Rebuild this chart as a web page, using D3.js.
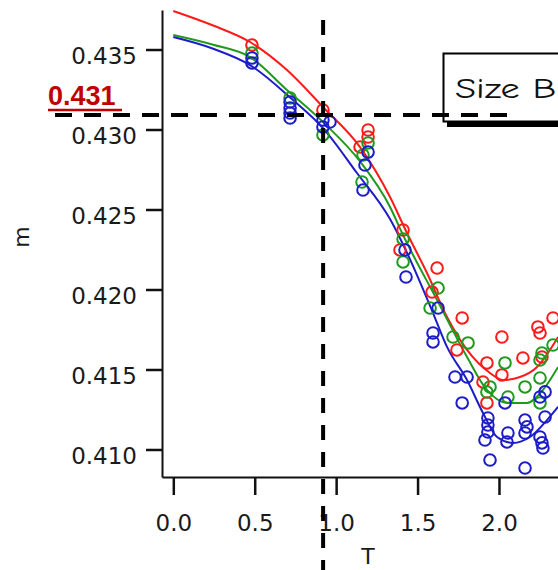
<!DOCTYPE html>
<html>
<head>
<meta charset="utf-8">
<script src="https://cdn.jsdelivr.net/npm/d3@7"></script>
<style>
  html, body { margin: 0; padding: 0; background: #fff; }
  svg { display: block; }
</style>
</head>
<body>
<svg id="chart" width="558" height="570"></svg>
<script>
// ---- data (T, m) ----
const xTicks = [0.0, 0.5, 1.0, 1.5, 2.0];
const yTicks = [0.410, 0.415, 0.420, 0.425, 0.430, 0.435];
const markT = 0.92;
const markM = 0.4309;
const markLabel = "0.431";
const boxText = "Size B";

const redPoints = [
  [0.483,0.43528],[0.919,0.43122],[1.196,0.42997],[1.196,0.42953],[1.147,0.42891],
  [1.411,0.42372],[1.392,0.42247],[1.620,0.42134],[1.589,0.41984],[1.774,0.41822],
  [1.742,0.41622],[2.018,0.41703],[1.926,0.41541],[1.902,0.41422],[1.926,0.41291],
  [2.147,0.41572],[2.239,0.41766],[2.252,0.41728],[2.332,0.41822],[2.264,0.41578],
  [2.018,0.41466]
];
const greenPoints = [
  [0.483,0.43478],[0.717,0.43197],[0.919,0.42966],[1.196,0.42916],[1.165,0.42841],
  [1.159,0.42672],[1.411,0.42316],[1.411,0.42172],[1.626,0.42009],[1.577,0.41884],
  [1.810,0.41666],[1.718,0.41703],[2.037,0.41541],[2.264,0.41603],[2.252,0.41559],
  [1.945,0.41391],[2.160,0.41391],[2.252,0.41447],[2.055,0.41328],[1.926,0.41359],
  [2.252,0.41291],[2.332,0.41653]
];
const bluePoints = [
  [0.483,0.43447],[0.483,0.43416],[0.717,0.43172],[0.717,0.43134],[0.717,0.43103],
  [0.717,0.43072],[0.919,0.43059],[0.962,0.43047],[0.919,0.43016],[1.196,0.42859],
  [1.177,0.42778],[1.165,0.42622],[1.423,0.42247],[1.429,0.42078],[1.626,0.41884],
  [1.595,0.41728],[1.595,0.41672],[1.730,0.41453],[1.804,0.41453],[1.774,0.41291],
  [1.932,0.41197],[1.932,0.41153],[1.932,0.41109],[1.914,0.41059],[1.945,0.40934],
  [2.055,0.41103],[2.049,0.41047],[2.037,0.41291],[2.160,0.41184],[2.172,0.41141],
  [2.160,0.41103],[2.160,0.40884],[2.252,0.41078],[2.264,0.41041],[2.270,0.41009],
  [2.252,0.41328],[2.283,0.41203],[2.283,0.41360]
];
const redLine = [
  [0.0,0.43741],[0.245,0.43650],[0.471,0.43547],[0.70,0.43370],[0.919,0.43141],[1.147,0.42890],
  [1.331,0.42578],[1.435,0.42353],[1.558,0.42103],[1.681,0.41828],[1.804,0.41622],
  [1.945,0.41478],[2.025,0.41434],[2.129,0.41453],[2.234,0.41516],[2.363,0.41703]
];
const greenLine = [
  [0.0,0.43591],[0.245,0.43530],[0.471,0.43453],[0.698,0.43247],[0.919,0.43047],[1.147,0.42800],
  [1.331,0.42516],[1.411,0.42340],[1.620,0.41934],[1.804,0.41578],[1.926,0.41372],
  [2.049,0.41291],[2.172,0.41291],[2.270,0.41372],[2.363,0.41516]
];
const blueLine = [
  [0.0,0.43578],[0.245,0.43505],[0.471,0.43403],[0.735,0.43184],[0.919,0.43009],[1.128,0.42728],
  [1.331,0.42440],[1.435,0.42230],[1.595,0.41853],[1.681,0.41641],[1.804,0.41434],
  [1.902,0.41228],[1.988,0.41078],[2.086,0.41041],[2.190,0.41078],[2.295,0.41184],
  [2.363,0.41266]
];

const series = [
  {points: redPoints,   line: redLine,   color: "#ff1a1a"},
  {points: greenPoints, line: greenLine, color: "#1f9a1f"},
  {points: bluePoints,  line: blueLine,  color: "#1c1cc8"}
];

// ---- drawing ----
const svg = d3.select("#chart");
const x = d3.scaleLinear().domain([-0.0694, 2.3625]).range([162, 558]);
const y = d3.scaleLinear().domain([0.40828, 0.43747]).range([477, 10]);

const tickFont = "'DejaVu Sans', Verdana, sans-serif";

// y axis
const yAxis = svg.append("g").attr("transform", "translate(162,0)")
  .call(d3.axisLeft(y).tickValues(yTicks).tickSizeInner(16).tickSizeOuter(0)
        .tickPadding(9).tickFormat(d3.format(".3f")));
yAxis.select(".domain").attr("stroke", "#111").attr("stroke-width", 2);
yAxis.selectAll(".tick line").attr("stroke", "#111").attr("stroke-width", 2.5);
yAxis.selectAll(".tick text").attr("font-family", tickFont).attr("font-size", 23)
  .attr("fill", "#1a1a1a").attr("dy", "0.6em");

// x axis
const xAxis = svg.append("g").attr("transform", "translate(0,477)")
  .call(d3.axisBottom(x).tickValues(xTicks).tickSizeInner(18).tickSizeOuter(0)
        .tickPadding(20).tickFormat(d3.format(".1f")));
xAxis.select(".domain").attr("stroke", "#111").attr("stroke-width", 2);
xAxis.selectAll(".tick line").attr("stroke", "#111").attr("stroke-width", 2.5);
xAxis.selectAll(".tick text").attr("font-family", tickFont).attr("font-size", 23)
  .attr("fill", "#1a1a1a");

// axis titles
svg.append("text").attr("transform", "translate(29,237) rotate(-90)")
  .attr("text-anchor", "middle").attr("font-family", tickFont).attr("font-size", 22)
  .attr("fill", "#1a1a1a").text("m");
svg.append("text").attr("x", 368).attr("y", 564)
  .attr("text-anchor", "middle").attr("font-family", tickFont).attr("font-size", 22)
  .attr("fill", "#1a1a1a").text("T");

// lines and points
const lineGen = d3.line().x(d => x(d[0])).y(d => y(d[1])).curve(d3.curveMonotoneX);
series.forEach(s => {
  svg.append("path").datum(s.line).attr("d", lineGen)
    .attr("fill", "none").attr("stroke", s.color).attr("stroke-width", 2);
});
series.forEach(s => {
  svg.append("g").selectAll("circle").data(s.points).join("circle")
    .attr("cx", d => x(d[0])).attr("cy", d => y(d[1])).attr("r", 5.8)
    .attr("fill", "none").attr("stroke", s.color).attr("stroke-width", 2);
});

// box "Size B"
svg.append("rect").attr("x", 447).attr("y", 57).attr("width", 140).attr("height", 70)
  .attr("fill", "#000");
svg.append("rect").attr("x", 443.5).attr("y", 53.5).attr("width", 140).attr("height", 68)
  .attr("fill", "#fff").attr("stroke", "#000").attr("stroke-width", 2);
svg.append("text").attr("transform", "translate(455,98) scale(1.32,1)")
  .attr("font-family", "'Comic Sans MS', 'Comic Neue', 'DejaVu Sans', sans-serif")
  .attr("font-size", 29).attr("fill", "#111").text(boxText);

// dashed marker lines
svg.append("line").attr("x1", 55).attr("x2", 508).attr("y1", y(markM)).attr("y2", y(markM))
  .attr("stroke", "#000").attr("stroke-width", 4).attr("stroke-dasharray", "17,12");
svg.append("line").attr("x1", x(markT)).attr("x2", x(markT)).attr("y1", 20).attr("y2", 570)
  .attr("stroke", "#000").attr("stroke-width", 4).attr("stroke-dasharray", "15,12");

// red marker label
svg.append("text").attr("x", 48).attr("y", 105)
  .attr("font-family", "'Liberation Sans', Arial, sans-serif").attr("font-weight", "bold")
  .attr("font-size", 27).attr("fill", "#c00000").text(markLabel);
svg.append("line").attr("x1", 48).attr("x2", 122).attr("y1", 110).attr("y2", 110)
  .attr("stroke", "#c00000").attr("stroke-width", 2.5);
</script>
</body>
</html>
